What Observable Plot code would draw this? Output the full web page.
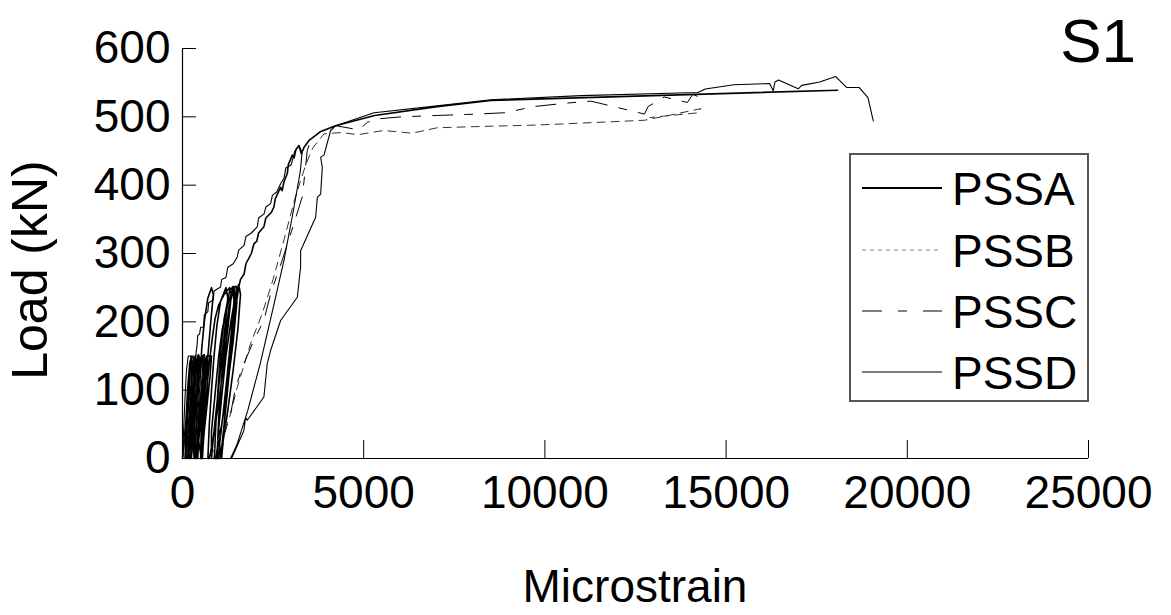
<!DOCTYPE html>
<html>
<head>
<meta charset="utf-8">
<script src="https://cdn.jsdelivr.net/npm/d3@7"></script>
<script src="https://cdn.jsdelivr.net/npm/@observablehq/plot@0.6"></script>
<style>
  html, body { margin: 0; padding: 0; background: #fff; }
  #chart { width: 1171px; height: 615px; }
</style>
</head>
<body>
<div id="chart"></div>
<script>
// ---- data (strain in microstrain, load in kN) ----
const xTicks = [0, 5000, 10000, 15000, 20000, 25000];
const yTicks = [0, 100, 200, 300, 400, 500, 600];
const seriesNames = ["PSSA", "PSSB", "PSSC", "PSSD"];

const PSSA = [
  [0,0],[50,30],[110,65],[170,95],[220,105],[200,70],[150,35],[100,8],[80,0],
  [90,50],[140,100],[200,140],[260,150],[240,110],[190,60],[140,20],[120,0],
  [120,25],[200,70],[280,105],[340,112],[310,80],[250,45],[190,15],[170,0],
  [180,50],[230,100],[290,140],[350,150],[330,110],[280,60],[230,20],[210,0],
  [200,30],[260,75],[330,120],[390,145],[440,152],[420,120],[360,80],[300,40],[250,10],[230,0],
  [290,50],[340,100],[400,140],[460,150],[440,110],[390,60],[340,20],[320,0],
  [300,30],[380,85],[450,125],[510,148],[600,152],[570,115],[500,70],[420,30],[370,5],[350,0],
  [400,50],[460,100],[520,140],[580,150],[560,110],[500,60],[440,20],[420,0],
  [400,0],[430,50],[480,110],[530,160],[600,200],[700,235],[800,250],[850,240],[780,200],[700,150],[620,100],[560,50],[520,0],
  [420,35],[520,95],[600,135],[660,150],[800,150],[760,120],[680,80],[590,35],[520,5],[500,0],
  [520,50],[580,100],[640,140],[700,150],[690,110],[630,60],[570,20],[550,0],
  [560,40],[650,90],[740,140],[820,175],[900,205],[1000,225],[1150,240],[1300,250],[1350,240],[1250,190],[1120,130],[980,75],[850,30],[760,5],[730,0],
  [700,0],[740,50],[800,100],[870,150],[950,195],[1050,230],[1200,250],[1250,235],[1150,180],[1050,130],[950,80],[850,30],[800,0],
  [800,40],[900,95],[1000,150],[1100,190],[1250,225],[1400,250],[1480,252],[1500,228],[1400,172],[1260,112],[1100,55],[960,15],[920,0],
  [880,0],[920,50],[990,110],[1060,160],[1150,205],[1300,245],[1400,252],[1420,230],[1330,175],[1230,120],[1120,65],[1020,20],[990,0],
  [950,0],[1000,60],[1080,120],[1170,175],[1280,220],[1420,250],[1460,235],[1380,180],[1280,120],[1170,60],[1080,15],[1050,0],
  [1000,45],[1100,100],[1200,150],[1320,195],[1450,235],[1550,255],[1600,240],[1530,190],[1400,130],[1250,70],[1120,25],[1080,0],
  [1150,50],[1250,110],[1350,165],[1450,215],[1550,250],[1600,262],[1700,270],[1750,285],[1900,300],[1970,314],[2050,318],[2100,330],[2246,339],[2300,352],[2450,360],[2522,368],[2560,380],[2707,397],[2750,392],[2800,405],[2892,417],[2920,430],[3030,444],[3080,440],[3130,452],[3213,458],[3280,446],[3350,455],[3500,466],[3800,478],[4226,487],[5300,502],[7027,515],[8507,524],[18075,539]
];

const PSSB = [
  [0,0],[60,25],[120,55],[200,90],[260,100],[220,60],[150,25],[110,0],
  [300,20],[380,60],[450,100],[500,120],[470,80],[400,40],[350,0],
  [700,0],[865,12],[1000,30],[1279,56],[1510,104],[1878,168],[2200,212],[2500,262],[2800,320],[3100,380],[3400,430],[3600,455],[3903,475],[4364,477],[4858,474],[5549,480],[6336,476],[7027,484],[8311,486],[9789,488],[11073,491],[12749,495],[13500,503],[14300,512],[14250,506],[12900,499]
];

const PSSC = [
  [0,0],[100,50],[200,100],[280,130],[250,90],[180,45],[150,0],
  [250,30],[350,80],[420,120],[400,80],[330,30],[300,0],
  [600,0],[1050,2],[1188,41],[1326,65],[1464,104],[1694,139],[1970,173],[2246,202],[2431,241],[2750,290],[3075,344],[3306,383],[3444,451],[3550,468],[3800,478],[4226,487],[4870,481],[5101,492],[5378,497],[6041,500],[7027,502],[8112,504],[8902,506],[9691,515],[10578,520],[11269,523],[12749,504],[12846,515],[13291,529],[13932,521],[14080,533],[14426,525]
];

const PSSD = [
  [0,0],[30,40],[70,90],[110,130],[160,150],[230,150],[210,115],[160,70],[110,30],[70,0],
  [100,40],[150,90],[200,130],[250,148],[300,150],[280,110],[230,65],[180,25],[150,0],
  [180,30],[240,80],[300,125],[360,150],[420,150],[400,110],[340,60],[280,20],[250,0],
  [300,30],[380,90],[450,130],[520,150],[560,140],[500,90],[420,40],[370,0],
  [250,60],[300,120],[359,148],[400,165],[420,180],[470,182],[500,192],[588,192],[600,210],[700,215],[720,228],[850,232],[870,245],[1050,251],[1080,262],[1200,265],[1250,280],[1400,285],[1510,295],[1550,305],[1700,312],[1750,325],[1900,330],[2063,339],[2100,352],[2250,358],[2300,368],[2431,373],[2480,385],[2600,390],[2707,402],[2800,410],[2850,425],[3000,430],[3100,450],[3213,458],[3300,448],[3250,420],[3050,360],[2800,290],[2500,220],[2150,140],[1800,70],[1500,20],[1326,0],
  [1373,2],[1694,41],[1740,60],[1787,56],[2246,90],[2339,139],[2431,158],[2707,202],[3168,236],[3259,280],[3259,304],[3674,353],[3720,382],[3812,387],[3858,426],[3812,441],[3904,444],[4088,480],[4226,487],[5284,506],[7027,516],[8507,525],[11000,531],[14224,535.6],[14426,540.8],[15215,547],[16201,548.7],[16300,538],[16348,551],[16447,554],[16989,541],[17088,546],[17582,551],[18025,559],[18324,543],[18668,543],[18914,528],[19061,494]
];

// ---- styles (plot lines and legend samples) ----
const styles = {
  PSSA: {stroke: "#000", strokeWidth: 1.6, dash: null, legendStroke: "#000", legendWidth: 2, legendDash: null},
  PSSB: {stroke: "#333", strokeWidth: 1, dash: "8,6", legendStroke: "#888", legendWidth: 1.2, legendDash: "4,4"},
  PSSC: {stroke: "#000", strokeWidth: 1, dash: "20,12,8,12", legendStroke: "#000", legendWidth: 1, legendDash: "20,16,9,16"},
  PSSD: {stroke: "#000", strokeWidth: 1.1, dash: null, legendStroke: "#000", legendWidth: 1, legendDash: null}
};
const seriesData = {PSSA, PSSB, PSSC, PSSD};

const W = 1171, H = 615;
const mL = 182, mR = 83, mT = 48, mB = 157;
const FONT = "'Liberation Sans', Arial, Helvetica, sans-serif";
// inward tick lengths expressed through the scales (18px and 14px)
const xDomain = [0, 25000], yDomain = [0, 600];
const tickLenY = 18 * (yDomain[1] - yDomain[0]) / (H - mT - mB);
const tickLenX = 14 * (xDomain[1] - xDomain[0]) / (W - mL - mR);

const lineMarks = seriesNames.map(name => {
  const s = styles[name];
  return Plot.line(seriesData[name], {
    x: d => d[0], y: d => d[1],
    stroke: s.stroke, strokeWidth: s.strokeWidth,
    strokeDasharray: s.dash, strokeLinejoin: "round"
  });
});

const plot = Plot.plot({
  width: W, height: H,
  marginLeft: mL, marginRight: mR, marginTop: mT, marginBottom: mB,
  style: {fontFamily: FONT, background: "#fff", color: "#000", overflow: "visible"},
  x: {domain: xDomain},
  y: {domain: yDomain},
  marks: [
    ...lineMarks,
    Plot.ruleY([0], {stroke: "#000", strokeWidth: 1.2}),
    Plot.ruleX([0], {stroke: "#000", strokeWidth: 1.2}),
    Plot.ruleX(xTicks.slice(1), {x: d => d, y1: 0, y2: tickLenY, stroke: "#000"}),
    Plot.ruleY(yTicks.slice(1), {y: d => d, x1: 0, x2: tickLenX, stroke: "#000"}),
    Plot.axisX({ticks: xTicks, tickSize: 0, tickPadding: 17, fontSize: 46, label: null, tickFormat: d3.format("d")}),
    Plot.axisY({ticks: yTicks, tickSize: 0, tickPadding: 12, fontSize: 46, label: null, tickFormat: d3.format("d")})
  ]
});

document.getElementById("chart").appendChild(plot);

const svg = d3.select(plot);
// axis titles
svg.append("text")
  .attr("x", (mL + W - mR) / 2).attr("y", 602)
  .attr("text-anchor", "middle")
  .style("font-family", FONT).style("font-size", "46px").attr("fill", "#000")
  .text("Microstrain");
svg.append("text")
  .attr("transform", "translate(47,270) rotate(-90)")
  .attr("text-anchor", "middle")
  .style("font-family", FONT).style("font-size", "50px").attr("fill", "#000")
  .text("Load (kN)");
svg.append("text")
  .attr("x", 1136).attr("y", 62)
  .attr("text-anchor", "end")
  .style("font-family", FONT).style("font-size", "62px").attr("fill", "#000")
  .text("S1");

// legend
const lg = svg.append("g");
lg.append("rect")
  .attr("x", 850).attr("y", 154).attr("width", 238).attr("height", 247)
  .attr("fill", "#fff").attr("stroke", "#555").attr("stroke-width", 2);
const legendY = [188, 250, 311, 372];
seriesNames.forEach((name, i) => {
  const s = styles[name];
  lg.append("line")
    .attr("x1", 862).attr("x2", 942).attr("y1", legendY[i]).attr("y2", legendY[i])
    .attr("stroke", s.legendStroke).attr("stroke-width", s.legendWidth)
    .attr("stroke-dasharray", s.legendDash);
  lg.append("text")
    .attr("x", 952).attr("y", legendY[i]).attr("dy", "0.36em")
    .attr("text-anchor", "start")
    .style("font-family", FONT).style("font-size", "46px").attr("fill", "#000")
    .text(name);
});
</script>
</body>
</html>
